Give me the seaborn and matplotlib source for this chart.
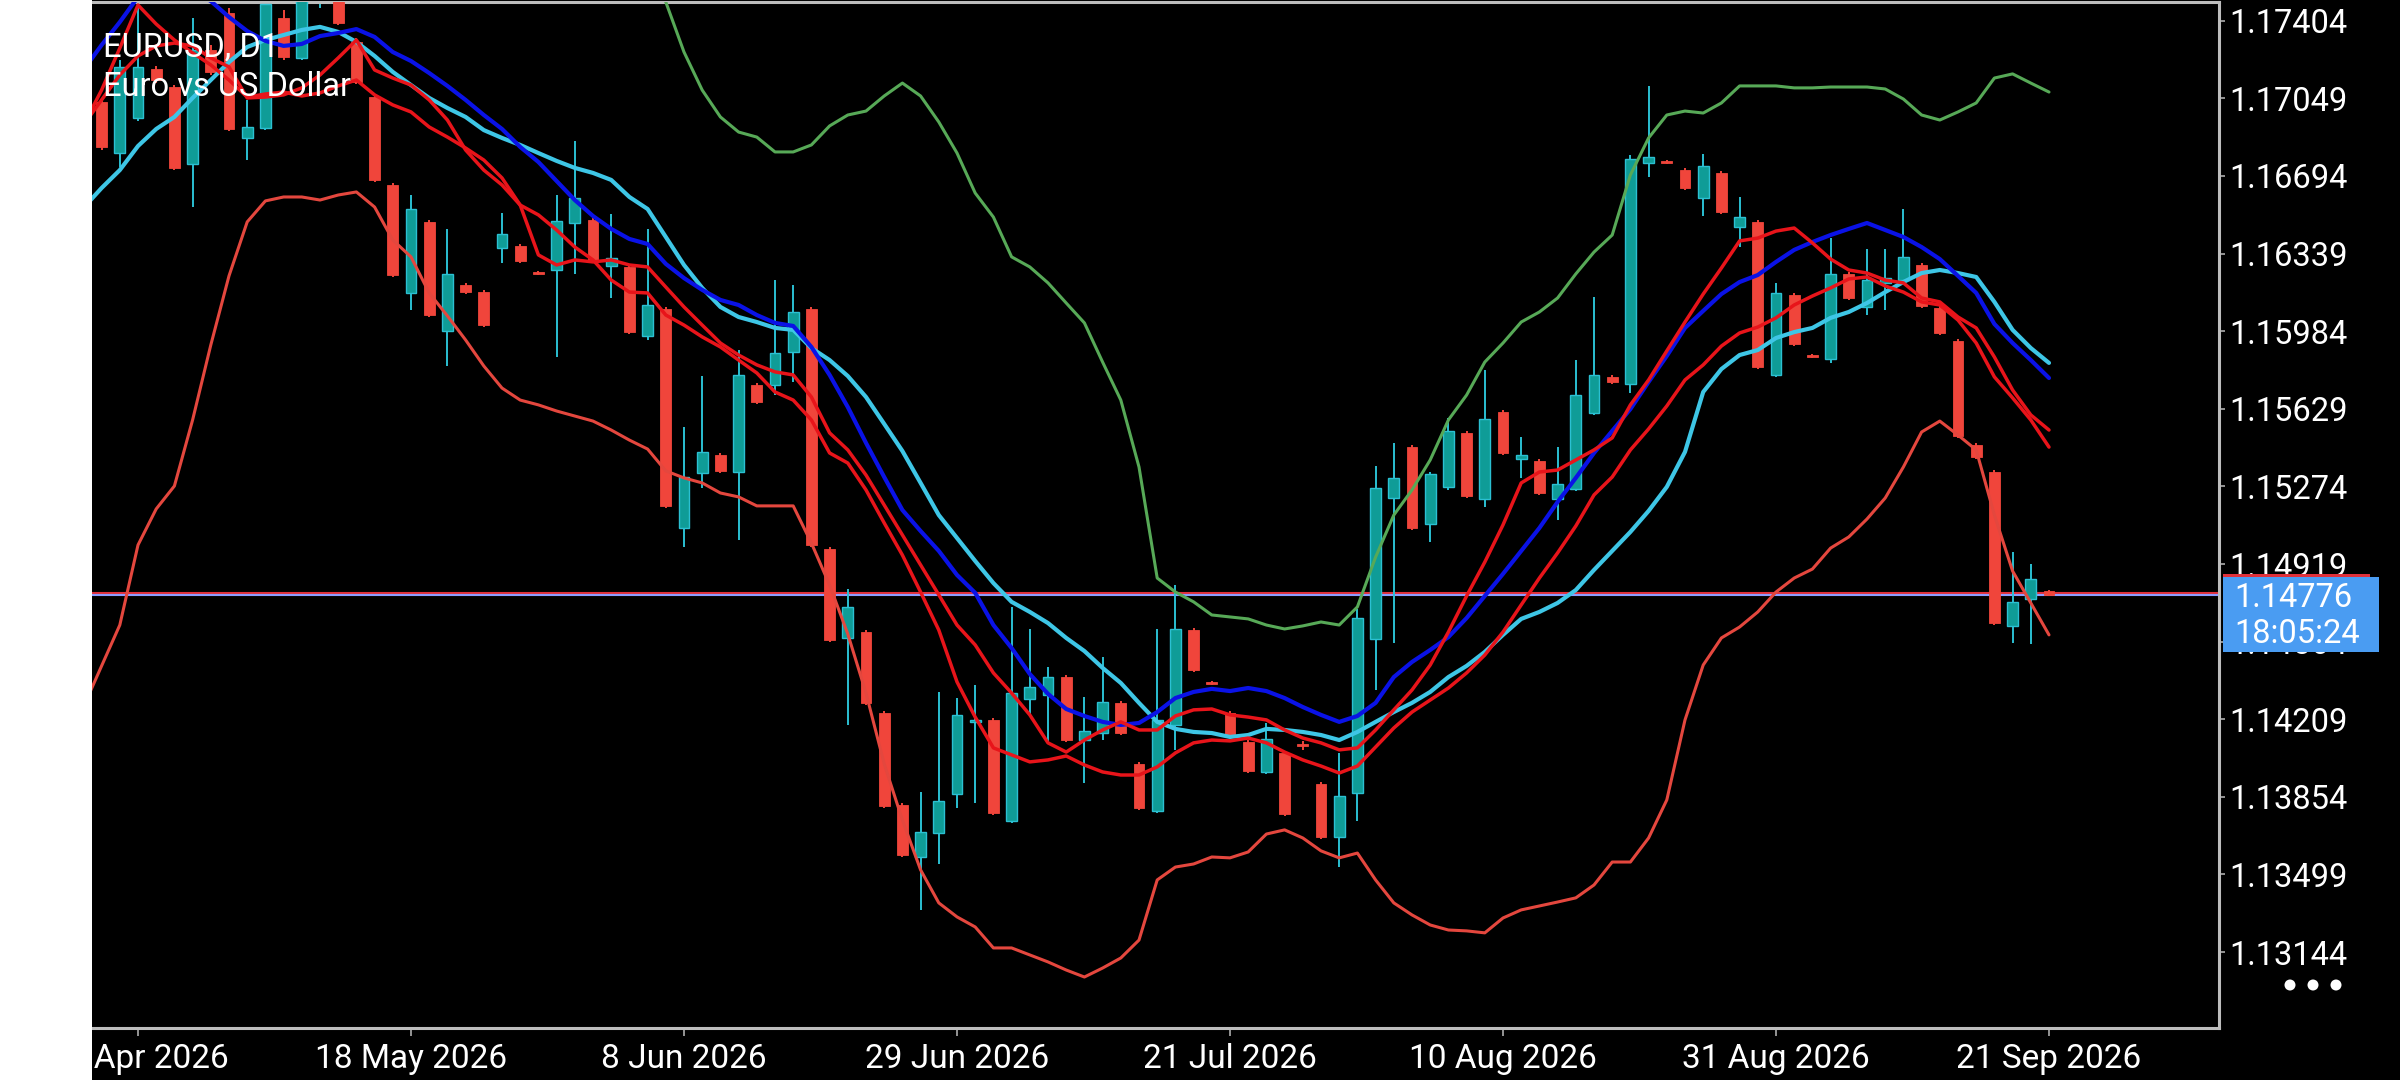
import numpy as np
import pandas as pd
import matplotlib
matplotlib.use("Agg")
import matplotlib.pyplot as plt
import seaborn as sns
from matplotlib.patches import Rectangle, Ellipse

# ---------------- data (EURUSD D1) ----------------
open_ = [1.17033, 1.16799, 1.16959, 1.17183, 1.17101, 1.16749, 1.17270, 1.17440, 1.16868, 1.16914,
         1.17417, 1.17234, 1.17536, 1.17636, 1.17307, 1.17055, 1.16653, 1.16159, 1.16484, 1.15985,
         1.16195, 1.16163, 1.16365, 1.16374, 1.16255, 1.16264, 1.16479, 1.16493, 1.16282, 1.16278,
         1.15962, 1.16086, 1.15084, 1.15336, 1.15418, 1.15340, 1.15738, 1.15738, 1.15889, 1.16086,
         1.14988, 1.14581, 1.14608, 1.14238, 1.13817, 1.13579, 1.13689, 1.13867, 1.14197, 1.14206,
         1.13744, 1.14302, 1.14320, 1.14402, 1.14114, 1.14146, 1.14284, 1.14005, 1.13790, 1.14183,
         1.14617, 1.14380, 1.14238, 1.14105, 1.13968, 1.14055, 1.14091, 1.13913, 1.13671, 1.13872,
         1.14576, 1.15221, 1.15454, 1.15102, 1.15272, 1.15519, 1.15217, 1.15615, 1.15400, 1.15390,
         1.15217, 1.15262, 1.15610, 1.15775, 1.15743, 1.16753, 1.16763, 1.16721, 1.16593, 1.16708,
         1.16461, 1.16484, 1.15784, 1.16150, 1.15875, 1.15857, 1.16246, 1.16095, 1.16205, 1.16218,
         1.16287, 1.16090, 1.15939, 1.15464, 1.15340, 1.14636, 1.14759, 1.14796]
high = [1.17051, 1.17225, 1.17568, 1.17197, 1.17110, 1.17417, 1.17293, 1.17462, 1.17042, 1.17536,
        1.17453, 1.17613, 1.17705, 1.17659, 1.17325, 1.17065, 1.16662, 1.16607, 1.16493, 1.16452,
        1.16205, 1.16173, 1.16525, 1.16383, 1.16259, 1.16607, 1.16854, 1.16502, 1.16520, 1.16287,
        1.16452, 1.16095, 1.15546, 1.15779, 1.15427, 1.15898, 1.15747, 1.16218, 1.16195, 1.16095,
        1.14997, 1.14805, 1.14617, 1.14247, 1.13826, 1.13876, 1.14334, 1.14306, 1.14366, 1.14215,
        1.14723, 1.14622, 1.14448, 1.14412, 1.14311, 1.14494, 1.14293, 1.14014, 1.14622, 1.14823,
        1.14627, 1.14384, 1.14247, 1.14114, 1.14192, 1.14064, 1.14110, 1.13922, 1.14055, 1.14713,
        1.15368, 1.15473, 1.15464, 1.15340, 1.15587, 1.15528, 1.15807, 1.15624, 1.15500, 1.15400,
        1.15454, 1.15852, 1.16141, 1.15784, 1.16790, 1.17106, 1.16767, 1.16731, 1.16795, 1.16717,
        1.16598, 1.16493, 1.16205, 1.16159, 1.15880, 1.16410, 1.16255, 1.16360, 1.16360, 1.16543,
        1.16296, 1.16099, 1.15948, 1.15473, 1.15349, 1.14974, 1.14919, 1.14800]
low = [1.16813, 1.16735, 1.16946, 1.17119, 1.16721, 1.16552, 1.17156, 1.16900, 1.16767, 1.16904,
       1.17225, 1.17225, 1.17462, 1.17385, 1.17115, 1.16667, 1.16232, 1.16081, 1.16049, 1.15825,
       1.16154, 1.16003, 1.16296, 1.16296, 1.16241, 1.15866, 1.16246, 1.16301, 1.16136, 1.15971,
       1.15944, 1.15175, 1.14997, 1.15267, 1.15336, 1.15029, 1.15651, 1.15692, 1.15752, 1.14997,
       1.14563, 1.14183, 1.14274, 1.13803, 1.13579, 1.13337, 1.13547, 1.13803, 1.13826, 1.13771,
       1.13735, 1.14229, 1.14101, 1.14105, 1.13918, 1.14114, 1.14137, 1.13794, 1.13780, 1.14069,
       1.14425, 1.14366, 1.14128, 1.13963, 1.13959, 1.13767, 1.14069, 1.13661, 1.13533, 1.13744,
       1.14343, 1.14558, 1.15075, 1.15020, 1.15258, 1.15221, 1.15180, 1.15418, 1.15313, 1.15235,
       1.15121, 1.15253, 1.15601, 1.15743, 1.15701, 1.16689, 1.16749, 1.16630, 1.16511, 1.16520,
       1.16369, 1.15811, 1.15775, 1.15916, 1.15862, 1.15839, 1.16127, 1.16058, 1.16081, 1.16209,
       1.16090, 1.15967, 1.15496, 1.15400, 1.14640, 1.14558, 1.14553, 1.14773]
close = [1.16827, 1.17193, 1.17193, 1.17133, 1.16731, 1.17270, 1.17170, 1.16909, 1.16918, 1.17481,
         1.17238, 1.17554, 1.17636, 1.17394, 1.17124, 1.16676, 1.16241, 1.16543, 1.16058, 1.16246,
         1.16163, 1.16012, 1.16429, 1.16305, 1.16246, 1.16488, 1.16593, 1.16310, 1.16319, 1.15980,
         1.16104, 1.15185, 1.15317, 1.15432, 1.15345, 1.15784, 1.15660, 1.15884, 1.16072, 1.15006,
         1.14572, 1.14723, 1.14284, 1.13812, 1.13588, 1.13693, 1.13835, 1.14229, 1.14206, 1.13780,
         1.14329, 1.14357, 1.14402, 1.14114, 1.14155, 1.14288, 1.14146, 1.13803, 1.14206, 1.14622,
         1.14434, 1.14370, 1.14137, 1.13972, 1.14119, 1.13776, 1.14087, 1.13671, 1.13858, 1.14672,
         1.15267, 1.15313, 1.15084, 1.15331, 1.15528, 1.15230, 1.15583, 1.15427, 1.15418, 1.15244,
         1.15285, 1.15692, 1.15784, 1.15752, 1.16772, 1.16781, 1.16753, 1.16639, 1.16740, 1.16529,
         1.16506, 1.15820, 1.16159, 1.15926, 1.15866, 1.16246, 1.16136, 1.16218, 1.16227, 1.16324,
         1.16099, 1.15976, 1.15505, 1.15409, 1.14649, 1.14746, 1.14851, 1.14776]

# indicator lines, one value per bar starting one bar before the first candle
ma_cyan = [1.16548, 1.16639, 1.16721, 1.16831, 1.16909, 1.16964, 1.17051, 1.17133, 1.17215, 1.17284, 1.17316,
           1.17339, 1.17362, 1.17376, 1.17353, 1.17307, 1.17243, 1.17170, 1.17110, 1.17051, 1.17005,
           1.16964, 1.16904, 1.16868, 1.16836, 1.16799, 1.16763, 1.16731, 1.16708, 1.16676, 1.16598,
           1.16543, 1.16415, 1.16287, 1.16182, 1.16095, 1.16049, 1.16026, 1.15999, 1.15990, 1.15907,
           1.15852, 1.15779, 1.15683, 1.15560, 1.15436, 1.15290, 1.15143, 1.15038, 1.14933, 1.14832,
           1.14746, 1.14700, 1.14649, 1.14581, 1.14521, 1.14444, 1.14375, 1.14284, 1.14197, 1.14165,
           1.14151, 1.14146, 1.14128, 1.14137, 1.14165, 1.14160, 1.14151, 1.14137, 1.14114, 1.14151,
           1.14197, 1.14242, 1.14284, 1.14334, 1.14402, 1.14453, 1.14517, 1.14595, 1.14668, 1.14700,
           1.14741, 1.14800, 1.14892, 1.14979, 1.15066, 1.15162, 1.15272, 1.15432, 1.15706, 1.15811,
           1.15875, 1.15898, 1.15953, 1.15980, 1.15999, 1.16045, 1.16072, 1.16113, 1.16163, 1.16209,
           1.16250, 1.16264, 1.16250, 1.16232, 1.16118, 1.15990, 1.15907, 1.15839]
ma_blue = [1.17179, 1.17293, 1.17398, 1.17513, 1.17568, 1.17581, 1.17545, 1.17494, 1.17421, 1.17357, 1.17312,
           1.17289, 1.17298, 1.17334, 1.17348, 1.17366, 1.17330, 1.17261, 1.17220, 1.17165, 1.17106,
           1.17042, 1.16973, 1.16909, 1.16827, 1.16758, 1.16671, 1.16584, 1.16511, 1.16452, 1.16406,
           1.16383, 1.16292, 1.16227, 1.16173, 1.16127, 1.16104, 1.16058, 1.16022, 1.16008, 1.15912,
           1.15784, 1.15637, 1.15473, 1.15317, 1.15166, 1.15070, 1.14979, 1.14869, 1.14787, 1.14640,
           1.14535, 1.14416, 1.14325, 1.14256, 1.14224, 1.14197, 1.14183, 1.14192, 1.14242, 1.14306,
           1.14334, 1.14348, 1.14338, 1.14352, 1.14338, 1.14306, 1.14265, 1.14229, 1.14197, 1.14224,
           1.14284, 1.14402, 1.14471, 1.14526, 1.14585, 1.14672, 1.14773, 1.14874, 1.14979, 1.15084,
           1.15203, 1.15313, 1.15427, 1.15528, 1.15628, 1.15752, 1.15871, 1.15999, 1.16077, 1.16154,
           1.16209, 1.16241, 1.16301, 1.16356, 1.16392, 1.16424, 1.16452, 1.16479, 1.16447, 1.16415,
           1.16369, 1.16314, 1.16237, 1.16159, 1.16017, 1.15930, 1.15852, 1.15770]
ma_red_1 = [1.16927, 1.17087, 1.17279, 1.17476, 1.17389, 1.17316, 1.17257, 1.17202, 1.17133, 1.17055, 1.17069,
            1.17078, 1.17060, 1.17074, 1.17106, 1.17133, 1.17065, 1.17019, 1.16987, 1.16918, 1.16872,
            1.16822, 1.16767, 1.16685, 1.16561, 1.16333, 1.16287, 1.16310, 1.16301,
            1.16310, 1.16287, 1.16278, 1.16186, 1.16095, 1.16012, 1.15930, 1.15875, 1.15830, 1.15798,
            1.15784, 1.15683, 1.15519, 1.15441, 1.15326, 1.15189, 1.15052, 1.14915, 1.14778, 1.14640,
            1.14549, 1.14421, 1.14329, 1.14229, 1.14101, 1.14059, 1.14114, 1.14160, 1.14197, 1.14160,
            1.14160, 1.14224, 1.14252, 1.14256, 1.14229, 1.14219, 1.14206, 1.14160, 1.14123, 1.14101,
            1.14069, 1.14078, 1.14160, 1.14252, 1.14343, 1.14457, 1.14608, 1.14773, 1.14928, 1.15098,
            1.15290, 1.15340, 1.15349, 1.15395, 1.15441, 1.15496, 1.15647, 1.15761, 1.15894, 1.16026,
            1.16154, 1.16273, 1.16397, 1.16410, 1.16442, 1.16456, 1.16388, 1.16314, 1.16264, 1.16250,
            1.16218, 1.16205, 1.16136, 1.16118, 1.16049, 1.15999, 1.15866, 1.15715, 1.15601, 1.15532]
ma_red_2 = [1.16927, 1.17042, 1.17156, 1.17243, 1.17289, 1.17302, 1.17289, 1.17234, 1.17193, 1.17051, 1.17055,
            1.17065, 1.17097, 1.17156, 1.17234, 1.17316, 1.17179, 1.17142, 1.17110, 1.17042, 1.16950,
            1.16813, 1.16721, 1.16653, 1.16561, 1.16516, 1.16447, 1.16369, 1.16310,
            1.16218, 1.16163, 1.16159, 1.16058, 1.16012, 1.15958, 1.15912, 1.15852, 1.15793, 1.15706,
            1.15669, 1.15578, 1.15427, 1.15381, 1.15258, 1.15107, 1.14960, 1.14791, 1.14617, 1.14380,
            1.14219, 1.14078, 1.14046, 1.14014, 1.14023, 1.14041, 1.14000, 1.13968, 1.13954, 1.13954,
            1.13991, 1.14055, 1.14101, 1.14114, 1.14110, 1.14123, 1.14101, 1.14059, 1.14023, 1.13995,
            1.13963, 1.13995, 1.14082, 1.14169, 1.14242, 1.14297, 1.14352, 1.14421, 1.14503, 1.14608,
            1.14732, 1.14855, 1.14970, 1.15093, 1.15235, 1.15317, 1.15441, 1.15537, 1.15642, 1.15761,
            1.15830, 1.15916, 1.15976, 1.16003, 1.16045, 1.16104, 1.16145, 1.16182, 1.16223, 1.16232,
            1.16191, 1.16163, 1.16118, 1.16104, 1.16035, 1.15930, 1.15775, 1.15679, 1.15578, 1.15454]
bb_upper = [np.nan] * 30 + [
            1.17760, 1.17660, 1.17490, 1.17261, 1.17087, 1.16964, 1.16895, 1.16872, 1.16804, 1.16804, 1.16836,
            1.16923, 1.16973, 1.16991, 1.17060, 1.17119, 1.17060, 1.16941, 1.16799, 1.16616, 1.16506,
            1.16324, 1.16278, 1.16205, 1.16113, 1.16022, 1.15843, 1.15669, 1.15363, 1.14855, 1.14791,
            1.14746, 1.14686, 1.14677, 1.14668, 1.14640, 1.14622, 1.14636, 1.14654, 1.14640, 1.14723,
            1.14951, 1.15143, 1.15258, 1.15395, 1.15578, 1.15692, 1.15843, 1.15930, 1.16026, 1.16072,
            1.16136, 1.16246, 1.16346, 1.16424, 1.16699, 1.16868, 1.16973, 1.16991, 1.16982, 1.17028,
            1.17106, 1.17106, 1.17106, 1.17097, 1.17097, 1.17101, 1.17101, 1.17101, 1.17092, 1.17046,
            1.16973, 1.16950, 1.16987, 1.17028, 1.17142, 1.17161, 1.17119, 1.17078]
bb_lower = [1.14265, 1.14453, 1.14640, 1.15006, 1.15171, 1.15276, 1.15578, 1.15921, 1.16237, 1.16484, 1.16580,
            1.16598, 1.16598, 1.16584, 1.16607, 1.16621, 1.16552, 1.16401, 1.16324, 1.16159, 1.16054,
            1.15944, 1.15825, 1.15724, 1.15669, 1.15647, 1.15619, 1.15596, 1.15573, 1.15532, 1.15486,
            1.15445, 1.15345, 1.15313, 1.15290, 1.15244, 1.15226, 1.15185, 1.15185, 1.15185, 1.15015,
            1.14823, 1.14599, 1.14329, 1.14005, 1.13748, 1.13520, 1.13369, 1.13305, 1.13259, 1.13163,
            1.13163, 1.13131, 1.13099, 1.13062, 1.13030, 1.13071, 1.13117, 1.13199, 1.13474, 1.13533,
            1.13547, 1.13579, 1.13575, 1.13602, 1.13684, 1.13703, 1.13666, 1.13607, 1.13575, 1.13597,
            1.13474, 1.13369, 1.13314, 1.13268, 1.13245, 1.13241, 1.13232, 1.13300, 1.13337, 1.13355,
            1.13373, 1.13392, 1.13451, 1.13556, 1.13556, 1.13666, 1.13840, 1.14206, 1.14457, 1.14581,
            1.14631, 1.14700, 1.14791, 1.14855, 1.14896, 1.14992, 1.15043, 1.15125, 1.15221, 1.15363,
            1.15523, 1.15573, 1.15509, 1.15441, 1.15143, 1.14887, 1.14741, 1.14595]

price_ticks = [1.13144, 1.13499, 1.13854, 1.14209, 1.14564, 1.14919, 1.15274, 1.15629,
               1.15984, 1.16339, 1.16694, 1.17049, 1.17404]
date_tick_bars = [2, 17, 32, 47, 62, 77, 92, 107]
date_labels = ["27 Apr 2026", "18 May 2026", "8 Jun 2026", "29 Jun 2026",
               "21 Jul 2026", "10 Aug 2026", "31 Aug 2026", "21 Sep 2026"]
bid_price = 1.14776
ask_price = 1.14787
symbol_title = "EURUSD, D1"
symbol_desc = "Euro vs US Dollar"
timer_text = "18:05:24"

# ---------------- styling ----------------
sns.set_theme(style="dark")
plt.rcParams['font.family'] = ['Roboto', 'DejaVu Sans']

W, H = 2400, 1080
fig = plt.figure(figsize=(W / 100, H / 100), dpi=100, facecolor='black')
L_PX, R_PX, T_PX, B_PX = 92, 2219, 2, 1028
ax = fig.add_axes([L_PX / W, 1 - B_PX / H, (R_PX - L_PX) / W, (B_PX - T_PX) / H])
ax.set_facecolor('black')
ax.grid(False)

RED = '#F0453B'
TEAL = '#0F9C97'
CYAN_EDGE = '#2BC0D2'

o = np.array(open_); hi = np.array(high); lo = np.array(low); c = np.array(close)
bars = np.arange(len(c))
up = c >= o

ax.vlines(bars[up], lo[up], hi[up], color=CYAN_EDGE, lw=1.4, zorder=2)
ax.vlines(bars[~up], lo[~up], hi[~up], color=RED, lw=1.4, zorder=2)
bottom = np.minimum(o, c)
height = np.maximum(np.abs(c - o), 0.00007)
ax.bar(bars[up], height[up], bottom=bottom[up], width=0.6, color=TEAL,
       edgecolor=CYAN_EDGE, linewidth=1.0, zorder=3)
ax.bar(bars[~up], height[~up], bottom=bottom[~up], width=0.6, color=RED,
       edgecolor=RED, linewidth=0.6, zorder=3)

# price lines
ax.axhline(ask_price, color='#E0303A', lw=1.5, zorder=1)
ax.axhline(bid_price, color='#8C9CFF', lw=1.5, zorder=1)

lx = np.arange(-1, len(c))
df = pd.DataFrame({'bar': lx, 'upper': bb_upper, 'lower': bb_lower, 'cyan': ma_cyan,
                   'blue': ma_blue, 'red1': ma_red_1, 'red2': ma_red_2})
sns.lineplot(data=df, x='bar', y='upper', color='#57A957', lw=2.2, ax=ax, zorder=4)
sns.lineplot(data=df, x='bar', y='lower', color='#E4473E', lw=2.2, ax=ax, zorder=4)
sns.lineplot(data=df, x='bar', y='cyan', color='#3EC6E6', lw=3.0, ax=ax, zorder=5)
sns.lineplot(data=df, x='bar', y='blue', color='#0A12E6', lw=3.0, ax=ax, zorder=5)
sns.lineplot(data=df, x='bar', y='red1', color='#E8141A', lw=2.5, ax=ax, zorder=6)
sns.lineplot(data=df, x='bar', y='red2', color='#E8141A', lw=2.5, ax=ax, zorder=6)
ax.set_xlabel('')
ax.set_ylabel('')

# axes ranges (bar spacing 18.2 px, 21862 px per price unit)
ax.set_xlim((L_PX - 101.6) / 18.2, (R_PX - 101.6) / 18.2)
ax.set_ylim(1.17499 - B_PX / 21862, 1.17499 - T_PX / 21862)

ax.yaxis.tick_right()
ax.set_yticks(price_ticks)
ax.set_yticklabels([f"{v:.5f}" for v in price_ticks])
ax.set_xticks(date_tick_bars)
ax.set_xticklabels(date_labels)
ax.tick_params(axis='y', right=True, left=False, colors='#BDBDBD', labelcolor='white',
               length=4.5, width=1.1, pad=3, labelsize=23.5, direction='out')
ax.tick_params(axis='x', bottom=True, top=False, colors='#BDBDBD', labelcolor='white',
               length=5.8, width=1.1, pad=5, labelsize=24, direction='out')
for s in ['top', 'right', 'bottom']:
    ax.spines[s].set_color('#BDBDBD')
    ax.spines[s].set_linewidth(2.2)
ax.spines['left'].set_visible(False)

# title texts
fig.text(103 / W, 1 - 57 / H, symbol_title, color='white', fontsize=23.5,
         ha='left', va='baseline', zorder=10)
fig.text(103 / W, 1 - 96 / H, symbol_desc, color='white', fontsize=23.5,
         ha='left', va='baseline', zorder=10)

# current price box
fig.add_artist(Rectangle((2223 / W, 1 - 652 / H), (2379 - 2223) / W, (652 - 577) / H,
                         transform=fig.transFigure, facecolor='#4A9CF2', edgecolor='none', zorder=5))
fig.add_artist(Rectangle((2223 / W, 1 - 577 / H), (2370 - 2223) / W, 3 / H,
                         transform=fig.transFigure, facecolor='#E0303A', edgecolor='none', zorder=6))
fig.text(2234 / W, 1 - 598 / H, f"{bid_price:.5f}", color='white', fontsize=23.5,
         ha='left', va='center', zorder=7)
fig.text(2234 / W, 1 - 634 / H, timer_text, color='white', fontsize=23.5,
         ha='left', va='center', zorder=7)

# menu dots
for px in (2290, 2313, 2336):
    fig.add_artist(Ellipse((px / W, 1 - 985 / H), 11 / W, 11 / H, transform=fig.transFigure,
                           facecolor='white', edgecolor='none', zorder=7))

# white strip on the left edge
fig.add_artist(Rectangle((0, 0), L_PX / W, 1, transform=fig.transFigure,
                         facecolor='white', edgecolor='none', zorder=20))

fig.savefig('out.png', dpi=100, facecolor='black')
